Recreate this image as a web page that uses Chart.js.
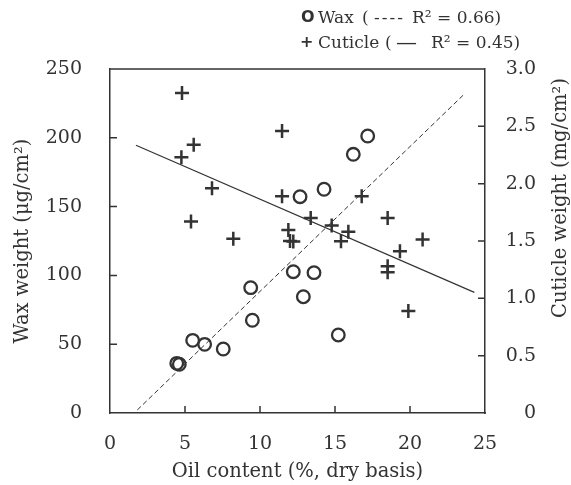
<!DOCTYPE html>
<html>
<head>
<meta charset="utf-8">
<script src="https://cdn.jsdelivr.net/npm/chart.js@4.4.1/dist/chart.umd.min.js"></script>
<style>
  body { margin: 0; background: #fff; }
  #wrap { position: relative; width: 571px; height: 485px; }
  .leg { position: absolute; font-family: "DejaVu Serif", serif; font-size: 17px; color: #333; white-space: nowrap; line-height: 20px; }
  .mk { font-family: "DejaVu Sans", sans-serif; font-weight: bold; font-size: 16px; }
</style>
</head>
<body>
<div id="wrap">
  <canvas id="chart" width="571" height="485"></canvas>
  <span class="leg mk" style="left:301px;top:7px">O</span>
  <span class="leg" style="left:318px;top:7px">Wax</span>
  <span class="leg" style="left:362px;top:7px">(</span>
  <span class="leg" style="left:374px;top:7px;letter-spacing:2px">----</span>
  <span class="leg" style="left:412px;top:7px">R² = 0.66)</span>
  <span class="leg mk" style="left:300px;top:32px">+</span>
  <span class="leg" style="left:318px;top:32px">Cuticle</span>
  <span class="leg" style="left:385px;top:32px">(</span>
  <span class="leg" style="left:396px;top:32px;font-size:21px">—</span>
  <span class="leg" style="left:431px;top:32px">R² = 0.45)</span>
</div>
<script>
// wax weight vs oil content
const waxOil = [4.45, 4.62, 5.51, 6.31, 7.55, 9.38, 9.49, 12.22, 13.6, 12.89, 15.22, 12.67, 14.27, 16.22, 17.18];
const waxWeight = [36.1, 35.4, 52.8, 49.9, 46.5, 91.1, 67.4, 102.7, 102, 84.5, 56.7, 157.2, 162.6, 188, 201.3];

// cuticle weight vs oil content
const cutOil = [4.8, 5.58, 4.76, 6.8, 5.4, 8.22, 11.47, 11.47, 11.89, 12.0, 12.22, 13.38, 14.78, 15.89, 15.4, 16.78, 18.51, 20.84, 19.33, 18.51, 18.51, 19.89];
const cutWeight = [2.79, 2.34, 2.23, 1.96, 1.67, 1.52, 2.46, 1.89, 1.595, 1.50, 1.496, 1.70, 1.636, 1.58, 1.498, 1.89, 1.70, 1.513, 1.41, 1.28, 1.227, 0.89];

// fitted line end points
const waxFitX = [1.82, 23.67];
const waxFitY = [2.2, 232.3];
const cutFitX = [1.73, 24.29];
const cutFitY = [2.335, 1.052];

const xTicks = [0, 5, 10, 15, 20, 25];

const ink = '#333';
const serif = 'DejaVu Serif';

const toPts = (xs, ys) => xs.map((x, i) => ({ x: x, y: ys[i] }));

// inward tick marks, top border and right-hand title
const frame = {
  id: 'frame',
  afterDraw(chart) {
    const c = chart.ctx;
    const a = chart.chartArea;
    const sx = chart.scales.x, sy = chart.scales.y, sy1 = chart.scales.y1;
    c.save();
    c.strokeStyle = ink;
    c.lineWidth = 1.5;
    c.beginPath();
    c.moveTo(a.left, a.top);
    c.lineTo(a.right, a.top);
    [5, 10, 15, 20].forEach(v => {
      const px = sx.getPixelForValue(v);
      c.moveTo(px, a.bottom);
      c.lineTo(px, a.bottom - 7);
    });
    [50, 100, 150, 200].forEach(v => {
      const py = sy.getPixelForValue(v);
      c.moveTo(a.left, py);
      c.lineTo(a.left + 7, py);
    });
    [0.5, 1, 1.5, 2, 2.5].forEach(v => {
      const py = sy1.getPixelForValue(v);
      c.moveTo(a.right, py);
      c.lineTo(a.right - 7, py);
    });
    c.stroke();
    c.translate(561, 198);
    c.rotate(-Math.PI / 2);
    c.fillStyle = ink;
    c.font = '19.5px "DejaVu Serif"';
    c.textAlign = 'center';
    c.textBaseline = 'middle';
    c.fillText('Cuticle weight (mg/cm²)', 0, 0);
    c.restore();
  }
};

new Chart(document.getElementById('chart'), {
  type: 'scatter',
  data: {
    datasets: [
      {
        label: 'Wax',
        data: toPts(waxOil, waxWeight),
        yAxisID: 'y',
        pointStyle: 'circle',
        pointRadius: 6.3,
        borderWidth: 2.3,
        borderColor: ink,
        backgroundColor: 'rgba(0,0,0,0)'
      },
      {
        label: 'Cuticle',
        data: toPts(cutOil, cutWeight),
        yAxisID: 'y1',
        pointStyle: 'cross',
        pointRadius: 7,
        borderWidth: 2.5,
        borderColor: ink
      },
      {
        label: 'Wax fit',
        type: 'line',
        data: toPts(waxFitX, waxFitY),
        yAxisID: 'y',
        borderColor: ink,
        borderWidth: 1,
        borderDash: [5, 3],
        pointRadius: 0,
        fill: false
      },
      {
        label: 'Cuticle fit',
        type: 'line',
        data: toPts(cutFitX, cutFitY),
        yAxisID: 'y1',
        borderColor: ink,
        borderWidth: 1.2,
        pointRadius: 0,
        fill: false
      }
    ]
  },
  options: {
    responsive: false,
    animation: false,
    layout: { padding: { top: 69, left: 0, right: 35, bottom: 0 } },
    plugins: {
      legend: { display: false },
      tooltip: { enabled: false }
    },
    scales: {
      x: {
        type: 'linear',
        min: 0,
        max: 25,
        afterBuildTicks: s => { s.ticks = xTicks.map(v => ({ value: v })); },
        afterFit: s => { s.height = 72; },
        grid: { drawOnChartArea: false, drawTicks: false },
        border: { color: ink, width: 1.5 },
        ticks: { color: ink, font: { family: serif, size: 19 }, padding: 20, maxRotation: 0 },
        title: { display: true, text: 'Oil content (%, dry basis)', color: ink, font: { family: serif, size: 19.5 }, padding: { top: 0, bottom: 1 } }
      },
      y: {
        position: 'left',
        min: 0,
        max: 250,
        afterFit: s => { s.width = 110; },
        grid: { drawOnChartArea: false, drawTicks: false },
        border: { color: ink, width: 1.5 },
        ticks: { stepSize: 50, color: ink, font: { family: serif, size: 19 }, padding: 28 },
        title: { display: true, text: 'Wax weight (μg/cm²)', color: ink, font: { family: serif, size: 19.5 }, padding: { top: 11, bottom: 0 } }
      },
      y1: {
        position: 'right',
        min: 0,
        max: 3,
        afterFit: s => { s.width = 51; },
        grid: { drawOnChartArea: false, drawTicks: false },
        border: { color: ink, width: 1.5 },
        ticks: {
          stepSize: 0.5,
          color: ink,
          font: { family: serif, size: 19 },
          padding: 20,
          crossAlign: 'far',
          callback: v => v === 0 ? '0' : v.toFixed(1)
        }
      }
    }
  },
  plugins: [frame]
});
</script>
</body>
</html>
